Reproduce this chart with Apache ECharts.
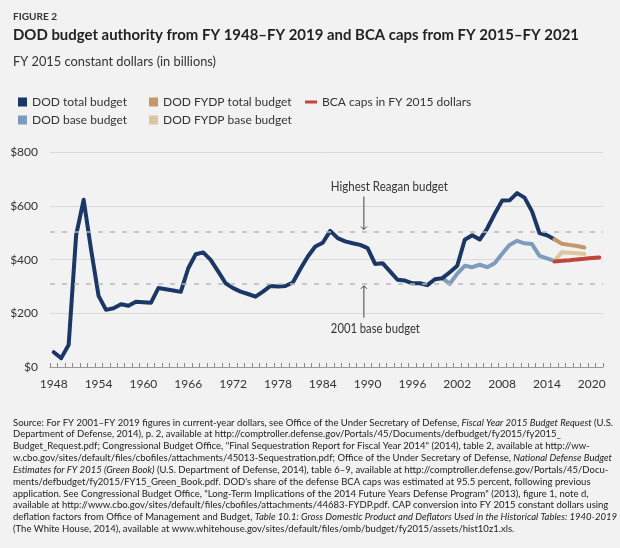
<!DOCTYPE html>
<html>
<head>
<meta charset="utf-8">
<script src="https://cdn.jsdelivr.net/npm/echarts@6/dist/echarts.min.js"></script>
<style>
html,body{margin:0;padding:0;background:#f2f2f2;}
#c{width:620px;height:548px;}
</style>
</head>
<body>
<div id="c"></div>
<script>
var FONT = "Lato, 'Open Sans', sans-serif";

var years = ['1948','1949','1950','1951','1952','1953','1954','1955','1956','1957','1958','1959',
  '1960','1961','1962','1963','1964','1965','1966','1967','1968','1969','1970','1971',
  '1972','1973','1974','1975','1976','1977','1978','1979','1980','1981','1982','1983',
  '1984','1985','1986','1987','1988','1989','1990','1991','1992','1993','1994','1995',
  '1996','1997','1998','1999','2000','2001','2002','2003','2004','2005','2006','2007',
  '2008','2009','2010','2011','2012','2013','2014','2015','2016','2017','2018','2019',
  '2020','2021'];

// DOD total budget FY1948-FY2015 (FY2015 $bn)
var dodTotalYears = years.slice(0, 68);
var dodTotal = [55,33,83,492,623,437,265,213,219,234,228,243,
  241,239,294,290,285,280,368,420,427,399,356,312,
  294,281,272,262,281,302,300,302,315,365,412,449,
  463,507,480,468,461,455,443,384,387,356,325,322,
  312,312,305,327,331,353,377,474,491,475,516,570,
  620,621,648,631,580,499,491,476];

// DOD base budget FY2000-FY2015
var dodBaseYears = ['2000','2001','2002','2003','2004','2005','2006','2007','2008','2009','2010','2011','2012','2013','2014','2015'];
var dodBase = [331,310,348,377,372,381,372,387,422,455,470,461,458,414,405,395];

// FYDP FY2015-FY2019
var fydpYears = ['2015','2016','2017','2018','2019'];
var fydpTotal = [476,459,455,451,445];
var fydpBase = [395,428,426,424,422];

// BCA caps FY2015-FY2021
var bcaYears = ['2015','2016','2017','2018','2019','2020','2021'];
var bcaCaps = [393,396,398,401,403,406,408];

var refValues = [505, 310];
var refLabels = ['Highest Reagan budget', '2001 base budget'];
var yTicks = [0, 200, 400, 600, 800];

function pairs(xs, vs) { return xs.map(function (x, i) { return [x, vs[i]]; }); }

var colors = {
  total: '#1b3766', base: '#7d9bba', fTotal: '#c4996a', fBase: '#dcc59f', bca: '#c0463b'
};

var cv = document.createElement('canvas').getContext('2d');
function measure(font, text) { cv.font = font; return cv.measureText(text).width; }

var chart = echarts.init(document.getElementById('c'));

var sourceSegs = [
  [['n','Source: For FY 2001–FY 2019 figures in current-year dollars, see Office of the Under Secretary of Defense, '],['i','Fiscal Year 2015 Budget Request'],['n',' (U.S.']],
  [['n','Department of Defense, 2014), p. 2, available at http://comptroller.defense.gov/Portals/45/Documents/defbudget/fy2015/fy2015_']],
  [['n','Budget_Request.pdf; Congressional Budget Office, "Final Sequestration Report for Fiscal Year 2014" (2014), table 2, available at http://ww-']],
  [['n','w.cbo.gov/sites/default/files/cbofiles/attachments/45013-Sequestration.pdf; Office of the Under Secretary of Defense, '],['i','National Defense Budget']],
  [['i','Estimates for FY 2015 (Green Book)'],['n',' (U.S. Department of Defense, 2014), table 6–9, available at http://comptroller.defense.gov/Portals/45/Docu-']],
  [['n','ments/defbudget/fy2015/FY15_Green_Book.pdf. DOD\'s share of the defense BCA caps was estimated at 95.5 percent, following previous']],
  [['n','application. See Congressional Budget Office, "Long-Term Implications of the 2014 Future Years Defense Program" (2013), figure 1, note d,']],
  [['n','available at http://www.cbo.gov/sites/default/files/cbofiles/attachments/44683-FYDP.pdf. CAP conversion into FY 2015 constant dollars using']],
  [['n','deflation factors from Office of Management and Budget, '],['i','Table 10.1: Gross Domestic Product and Deflators Used in the Historical Tables: 1940-2019']],
  [['n','(The White House, 2014), available at www.whitehouse.gov/sites/default/files/omb/budget/fy2015/assets/hist10z1.xls.']]
];
var SRC_SIZE = 10;
function segFont(k) { return (k === 'i' ? 'italic ' : '') + SRC_SIZE + 'px ' + FONT; }
var widest = 0;
sourceSegs.forEach(function (line) {
  var w = 0;
  line.forEach(function (s) { w += measure(segFont(s[0]), s[1]); });
  widest = Math.max(widest, w);
});
var srcScale = 604 / widest;
var sourceText = sourceSegs.map(function (line) {
  return line.map(function (s) { return '{' + s[0] + '|' + s[1] + '}'; }).join('');
}).join('\n');

function lineSeries(name, data, color, z) {
  return {
    name: name, type: 'line', data: data, symbol: 'none', z: z,
    lineStyle: { color: color, width: 4, join: 'round', cap: 'round' },
    itemStyle: { color: color },
    emphasis: { disabled: true }, animation: false
  };
}

var totalSeries = lineSeries('DOD total budget', pairs(dodTotalYears, dodTotal), colors.total, 4);
totalSeries.markLine = {
  silent: true, symbol: 'none', animation: false,
  label: { show: false },
  lineStyle: { color: '#b9b9b9', type: [5, 7], width: 1.5 },
  data: refValues.map(function (v) { return { yAxis: v }; })
};

var legendText = { fontFamily: FONT, fontSize: 12, color: '#333', lineHeight: 16 };

var option = {
  backgroundColor: '#f2f2f2',
  animation: false,
  textStyle: { fontFamily: FONT },
  grid: { left: 50, right: 17, top: 152.3, bottom: 181 },
  legend: [
    { left: 13, top: 89, orient: 'vertical', itemGap: 2, itemWidth: 9, itemHeight: 9,
      icon: 'rect', textStyle: legendText, selectedMode: false,
      data: ['DOD total budget', 'DOD base budget'] },
    { left: 144, top: 89, orient: 'vertical', itemGap: 2, itemWidth: 9, itemHeight: 9,
      icon: 'rect', textStyle: legendText, selectedMode: false,
      data: ['DOD FYDP total budget', 'DOD FYDP base budget'] },
    { left: 300, top: 89, orient: 'vertical', itemGap: 2, itemWidth: 12, itemHeight: 3,
      icon: 'rect', textStyle: legendText, selectedMode: false,
      data: ['BCA caps in FY 2015 dollars'] }
  ],
  xAxis: {
    type: 'category', data: years, boundaryGap: true,
    axisLine: { lineStyle: { color: '#999', width: 1 } },
    axisTick: { show: true, interval: 0, inside: true, length: 4, lineStyle: { color: '#888' } },
    axisLabel: { interval: 5, color: '#333', fontSize: 12, margin: 11, fontFamily: FONT },
    splitLine: { show: false }
  },
  yAxis: {
    type: 'value', min: yTicks[0], max: yTicks[yTicks.length - 1], interval: 200,
    axisLine: { show: false }, axisTick: { show: false },
    axisLabel: { color: '#333', fontSize: 12, margin: 12, fontFamily: FONT,
      formatter: function (v) { return '$' + v; } },
    splitLine: { lineStyle: { color: '#d9d9d9', width: 1 } }
  },
  series: [
    lineSeries('DOD base budget', pairs(dodBaseYears, dodBase), colors.base, 3),
    totalSeries,
    lineSeries('DOD FYDP base budget', pairs(fydpYears, fydpBase), colors.fBase, 5),
    lineSeries('DOD FYDP total budget', pairs(fydpYears, fydpTotal), colors.fTotal, 6),
    lineSeries('BCA caps in FY 2015 dollars', pairs(bcaYears, bcaCaps), colors.bca, 7)
  ]
};
chart.setOption(option);

// annotation arrows anchored to the reference lines
var xa = chart.convertToPixel({ xAxisIndex: 0 }, '1989');
var xb = chart.convertToPixel({ xAxisIndex: 0 }, '1990');
var ax = (xa + xb) / 2;
var yHigh = chart.convertToPixel({ yAxisIndex: 0 }, refValues[0]);
var yLow = chart.convertToPixel({ yAxisIndex: 0 }, refValues[1]);
var arrowStyle = { stroke: '#444', lineWidth: 1, fill: null };

function fitText(text, font, targetW, x, y, fill) {
  var s = targetW / measure(font, text);
  return { type: 'text', x: x, y: y, scaleX: s,
    style: { text: text, font: font, fill: fill, textVerticalAlign: 'middle' } };
}

var titleFont = 'bold 16px ' + FONT;
var subFont = '13px ' + FONT;

chart.setOption({
  graphic: [
    fitText('FIGURE 2', 'bold 10px ' + FONT, 44, 13, 17, '#333'),
    fitText('DOD budget authority from FY 1948–FY 2019 and BCA caps from FY 2015–FY 2021', titleFont, 566, 13, 35, '#222'),
    fitText('FY 2015 constant dollars (in billions)', subFont, 203, 13, 62, '#333'),
    fitText(refLabels[0], subFont, 117, ax - 33, yHigh - 45, '#333'),
    fitText(refLabels[1], subFont, 89, ax - 33, yLow + 45, '#333'),
    { type: 'polyline', shape: { points: [[ax, yHigh - 35], [ax, yHigh - 2]] }, style: arrowStyle },
    { type: 'polyline', shape: { points: [[ax - 3, yHigh - 5], [ax, yHigh - 2], [ax + 3, yHigh - 5]] }, style: arrowStyle },
    { type: 'polyline', shape: { points: [[ax, yLow + 34], [ax, yLow + 2]] }, style: arrowStyle },
    { type: 'polyline', shape: { points: [[ax - 3, yLow + 5], [ax, yLow + 2], [ax + 3, yLow + 5]] }, style: arrowStyle },
    { type: 'text', x: 13, y: 416.4, scaleX: srcScale, style: {
        text: sourceText, textVerticalAlign: 'top',
        rich: {
          n: { fontFamily: FONT, fontSize: SRC_SIZE, lineHeight: 11.85, fill: '#222' },
          i: { fontFamily: FONT, fontSize: SRC_SIZE, fontStyle: 'italic', lineHeight: 11.85, fill: '#222' }
        }
    } }
  ]
});
</script>
</body>
</html>
